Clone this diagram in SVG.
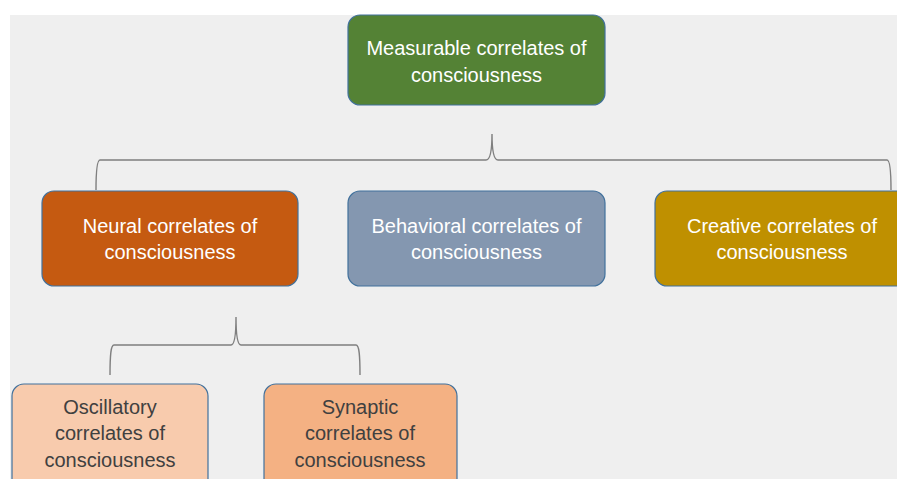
<svg xmlns="http://www.w3.org/2000/svg" width="897" height="479" viewBox="0 0 897 479">
<style>
.box{stroke:#41719c;stroke-width:1.2}
.t{font-family:"Liberation Sans",Arial,sans-serif;font-size:20px;text-anchor:middle}
.w{fill:#ffffff}
.d{fill:#404040}
.brace{fill:none;stroke:#7f7f7f;stroke-width:1.4}
</style>
<rect x="0" y="0" width="897" height="479" fill="#ffffff"/>
<rect x="10" y="15" width="887" height="464" fill="#efefef"/>
<g id="connectors">
<path class="brace" d="M96,190 C96,170 97,160 100,160 L486,160 C490,160 492,152 492,134 C492,152 494,160 498,160 L887,160 C890,160 891,170 891,190"/>
<path class="brace" d="M110,375 C110,354 111,345 114,345 L231,345 C234,345 236,336 236,317 C236,336 238,345 241,345 L356,345 C359,345 360,354 360,375"/>
</g>
<g id="measurable">
<rect class="box" x="348" y="15" width="257" height="90" rx="12" fill="#548235"/>
<text class="t w" x="476.5" y="55">Measurable correlates of</text>
<text class="t w" x="476.5" y="82">consciousness</text>
</g>
<g id="neural">
<rect class="box" x="42" y="191" width="256" height="95" rx="12" fill="#c55a11"/>
<text class="t w" x="170" y="233">Neural correlates of</text>
<text class="t w" x="170" y="259">consciousness</text>
</g>
<g id="behavioral">
<rect class="box" x="348" y="191" width="257" height="95" rx="12" fill="#8497b0"/>
<text class="t w" x="476.5" y="233">Behavioral correlates of</text>
<text class="t w" x="476.5" y="259">consciousness</text>
</g>
<g id="creative">
<rect class="box" x="655" y="191" width="260" height="95" rx="12" fill="#bf9000"/>
<text class="t w" x="782" y="233">Creative correlates of</text>
<text class="t w" x="782" y="259">consciousness</text>
</g>
<g id="oscillatory">
<rect class="box" x="12" y="384" width="196" height="110" rx="12" fill="#f8cbad"/>
<text class="t d" x="110" y="414">Oscillatory</text>
<text class="t d" x="110" y="440">correlates of</text>
<text class="t d" x="110" y="467">consciousness</text>
</g>
<g id="synaptic">
<rect class="box" x="264" y="384" width="193" height="110" rx="12" fill="#f4b183"/>
<text class="t d" x="360" y="414">Synaptic</text>
<text class="t d" x="360" y="440">correlates of</text>
<text class="t d" x="360" y="467">consciousness</text>
</g>
</svg>
